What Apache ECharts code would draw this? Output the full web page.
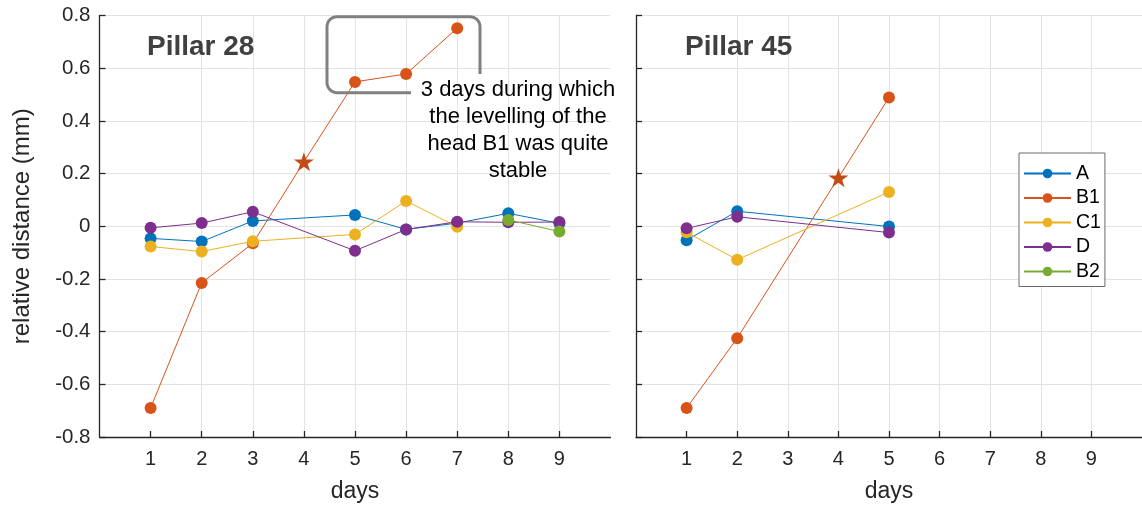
<!DOCTYPE html>
<html>
<head>
<meta charset="utf-8">
<script src="https://cdn.jsdelivr.net/npm/echarts@6/dist/echarts.min.js"></script>
<style>
  html, body { margin: 0; padding: 0; background: #fff; }
  #chart { width: 1142px; height: 508px; }
</style>
</head>
<body>
<div id="chart"></div>
<script>
// Levelling of the pillar heads, relative distance (mm) per day
const days = [1, 2, 3, 4, 5, 6, 7, 8, 9];
const seriesNames = ['A', 'B1', 'C1', 'D', 'B2'];
const yTicks = [-0.8, -0.6, -0.4, -0.2, 0, 0.2, 0.4, 0.6, 0.8];

// Pillar 28
const p28_A  = [-0.046, -0.058, 0.020, null, 0.043, -0.012, 0.012, 0.049, 0.011];
const p28_B1 = [-0.690, -0.215, -0.065, 0.245, 0.548, 0.578, 0.752, null, null];
const p28_C1 = [-0.077, -0.096, -0.057, null, -0.031, 0.096, -0.002, null, null];
const p28_D  = [-0.006, 0.012, 0.055, null, -0.093, -0.012, 0.017, 0.015, 0.016];
const p28_B2 = [null, null, null, null, null, null, null, 0.024, -0.020];

// Pillar 45
const p45_A  = [-0.053, 0.057, null, null, -0.001, null, null, null, null];
const p45_B1 = [-0.690, -0.425, null, 0.184, 0.489, null, null, null, null];
const p45_C1 = [-0.023, -0.127, null, null, 0.130, null, null, null, null];
const p45_D  = [-0.008, 0.036, null, null, -0.024, null, null, null, null];

// day on which the B1 reading is flagged with a star
const starDay = 4;

const colors = { A: '#0072BD', B1: '#D95319', C1: '#EDB120', D: '#7E2F8E', B2: '#77AC30' };
const starColor = '#C54B16';
const starPath = 'path://M50,0 L61.2,34.5 L97.6,34.5 L68.2,55.9 L79.4,90.5 L50,69.1 L20.6,90.5 L31.8,55.9 L2.4,34.5 L38.8,34.5 Z';
const FONT = '"Liberation Sans", Arial, Helvetica, sans-serif';
const AX = '#262626';
const GRIDC = '#e3e3e3';

function points(arr, flagStar) {
  const out = [];
  arr.forEach((v, i) => {
    if (v === null) return;
    if (flagStar && days[i] === starDay) {
      out.push({ value: [days[i], v], symbol: starPath, symbolSize: 20, symbolKeepAspect: true,
                 itemStyle: { color: starColor } });
    } else {
      out.push([days[i], v]);
    }
  });
  return out;
}

function lineSeries(name, arr, idx) {
  return {
    name, type: 'line', xAxisIndex: idx, yAxisIndex: idx,
    data: points(arr, name === 'B1'),
    symbol: 'circle', symbolSize: 12,
    itemStyle: { color: colors[name] },
    lineStyle: { width: 1, color: colors[name] },
    emphasis: { disabled: true },
    animation: false
  };
}

// vertical grid lines only at days 1..9 (index 0 and 10 hidden)
const xSplitColors = ['rgba(0,0,0,0)'].concat(days.map(() => GRIDC)).concat(['rgba(0,0,0,0)']);

function xAxis(idx) {
  return {
    type: 'value', gridIndex: idx, min: 0, max: 10, interval: 1,
    name: 'days', nameLocation: 'middle', nameGap: 43,
    nameTextStyle: { fontFamily: FONT, fontSize: 23, color: AX },
    axisLine: { show: true, onZero: false, lineStyle: { color: AX, width: 1.3 } },
    axisTick: { show: true, inside: true, length: 6, customValues: days, lineStyle: { color: AX, width: 1.3 } },
    axisLabel: { show: true, customValues: days, margin: 12, fontFamily: FONT, fontSize: 20, color: AX },
    splitLine: { show: true, lineStyle: { color: xSplitColors, width: 1 } }
  };
}

function yAxis(idx) {
  return {
    type: 'value', gridIndex: idx, min: -0.8, max: 0.8, interval: 0.2,
    name: idx === 0 ? 'relative distance (mm)' : '', nameLocation: 'middle', nameGap: 65,
    nameTextStyle: { fontFamily: FONT, fontSize: 24, color: AX },
    axisLine: { show: true, onZero: false, lineStyle: { color: AX, width: 1.3 } },
    axisTick: { show: true, inside: true, length: 6, lineStyle: { color: AX, width: 1.3 } },
    axisLabel: {
      show: idx === 0, margin: 9, fontFamily: FONT, fontSize: 20.5, color: AX,
      formatter: v => String(Math.round(v * 10) / 10)
    },
    splitLine: { show: true, lineStyle: { color: GRIDC, width: 1 } }
  };
}

// open rounded frame around days 5-7 of B1 (corner arcs sampled as polyline)
function arcPts(cx, cy, r, a0, a1) {
  const pts = [];
  for (let k = 0; k <= 8; k++) {
    const a = a0 + (a1 - a0) * k / 8;
    pts.push([cx + r * Math.cos(a), cy + r * Math.sin(a)]);
  }
  return pts;
}
const fr = { x0: 327, y0: 16.7, x1: 480, y1: 92.7, r: 10, bottomEnd: 411, rightEnd: 74 };
const framePts = [[fr.bottomEnd, fr.y1]]
  .concat(arcPts(fr.x0 + fr.r, fr.y1 - fr.r, fr.r, Math.PI / 2, Math.PI))
  .concat(arcPts(fr.x0 + fr.r, fr.y0 + fr.r, fr.r, Math.PI, Math.PI * 1.5))
  .concat(arcPts(fr.x1 - fr.r, fr.y0 + fr.r, fr.r, Math.PI * 1.5, Math.PI * 2))
  .concat([[fr.x1, fr.rightEnd]]);

const chart = echarts.init(document.getElementById('chart'), null, { renderer: 'canvas' });
chart.setOption({
  animation: false,
  backgroundColor: '#ffffff',
  title: [
    { text: 'Pillar 28', left: 147, top: 33, padding: 0,
      textStyle: { fontFamily: FONT, fontSize: 28, fontWeight: 'bold', color: '#404040' } },
    { text: 'Pillar 45', left: 685, top: 33, padding: 0,
      textStyle: { fontFamily: FONT, fontSize: 28, fontWeight: 'bold', color: '#404040' } }
  ],
  grid: [
    { left: 99.5, top: 15.5, width: 511, height: 424 },
    { left: 636, top: 15.5, width: 511, height: 424 }
  ],
  xAxis: [xAxis(0), xAxis(1)],
  yAxis: [yAxis(0), yAxis(1)],
  legend: {
    data: seriesNames, orient: 'vertical', left: 1019, top: 153,
    padding: [10.5, 4, 5, 4], itemGap: 4.5, itemWidth: 47, itemHeight: 12,
    borderColor: '#6b6b6b', borderWidth: 1, backgroundColor: '#fff',
    textStyle: { fontFamily: FONT, fontSize: 19.5, color: '#000' },
    selectedMode: false
  },
  series: [
    lineSeries('A', p28_A, 0),
    lineSeries('B1', p28_B1, 0),
    lineSeries('C1', p28_C1, 0),
    lineSeries('D', p28_D, 0),
    lineSeries('B2', p28_B2, 0),
    lineSeries('A', p45_A, 1),
    lineSeries('B1', p45_B1, 1),
    lineSeries('C1', p45_C1, 1),
    lineSeries('D', p45_D, 1)
  ],
  graphic: [
    {
      type: 'polyline', z: 10,
      shape: { points: framePts },
      style: { fill: null, stroke: '#808080', lineWidth: 3 }
    },
    {
      type: 'text', z: 10, x: 518, y: 77,
      style: {
        text: '3 days during which\nthe levelling of the\nhead B1 was quite\nstable',
        font: '22px ' + FONT, fill: '#000', align: 'center', verticalAlign: 'top', lineHeight: 26.7
      }
    }
  ]
});
</script>
</body>
</html>
